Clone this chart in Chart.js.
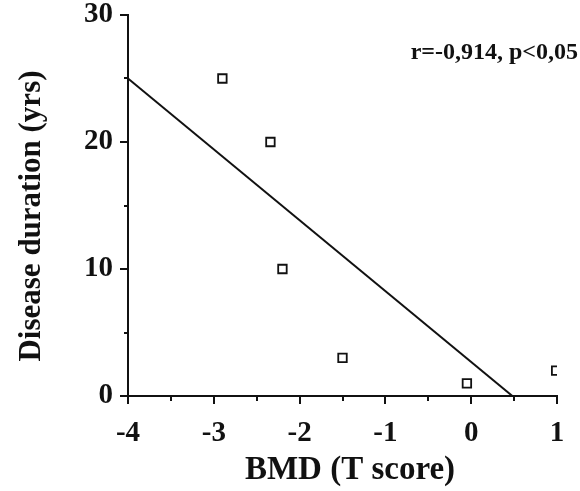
<!DOCTYPE html>
<html>
<head>
<meta charset="utf-8">
<script src="https://cdn.jsdelivr.net/npm/chart.js@4.4.0/dist/chart.umd.min.js"></script>
<style>
  html, body { margin: 0; padding: 0; background: #fff; }
  #wrap { width: 580px; height: 491px; }
</style>
</head>
<body>
<div id="wrap"><canvas id="myChart"></canvas></div>
<script>
// BMD T score vs disease duration
const bmd = [-2.9, -2.34, -2.2, -1.5, -0.05, 0.99];
const duration = [25, 20, 10, 3, 1, 2];

// regression line end points
const fitX = [-4, 0.48];
const fitY = [25, 0];

const statsText = 'r=-0,914, p<0,05';
const xTitle = 'BMD (T score)';
const yTitle = 'Disease duration (yrs)';

const xTicks = [-4, -3, -2, -1, 0, 1];
const yTicks = [0, 10, 20, 30];

const serif = "'Liberation Serif', 'Times New Roman', serif";
const ink = '#111';

const points = bmd.map((x, i) => ({ x: x, y: duration[i] }));
const fitLine = fitX.map((x, i) => ({ x: x, y: fitY[i] }));

// axis ticks (long on whole values, short at halves), axis titles and the r/p note
const tickMarks = {
    id: 'tickMarks',
    afterDatasetsDraw(chart) {
        const c = chart.ctx;
        const xs = chart.scales.x, ys = chart.scales.y;
        const area = chart.chartArea;
        c.save();
        c.strokeStyle = ink;
        c.lineWidth = 2;
        c.beginPath();
        for (let v = -4; v <= 1.001; v += 0.5) {
            const px = Math.round(xs.getPixelForValue(v));
            const len = Number.isInteger(v) ? 8 : 5;
            c.moveTo(px, area.bottom);
            c.lineTo(px, area.bottom + len);
        }
        for (let v = 0; v <= 30; v += 5) {
            const py = Math.round(ys.getPixelForValue(v));
            const len = v % 10 === 0 ? 8 : 4;
            c.moveTo(area.left, py);
            c.lineTo(area.left - len, py);
        }
        c.stroke();

        c.fillStyle = ink;
        c.textBaseline = 'middle';

        c.font = 'bold 24px ' + serif;
        c.textAlign = 'right';
        c.fillText(statsText, 578, 53);

        c.textAlign = 'center';
        c.font = 'bold 33px ' + serif;
        c.fillText(xTitle, 350, 470);

        c.translate(32, 216);
        c.rotate(-Math.PI / 2);
        c.font = 'bold 31px ' + serif;
        c.fillText(yTitle, 0, 0);
        c.restore();
    }
};

const ctx = document.getElementById('myChart');

new Chart(ctx, {
    type: 'scatter',
    data: {
        datasets: [
            {
                label: 'Fit',
                type: 'line',
                data: fitLine,
                borderColor: ink,
                borderWidth: 2,
                pointRadius: 0,
                fill: false
            },
            {
                label: 'Patients',
                data: points,
                pointStyle: 'rect',
                pointRadius: 6,
                backgroundColor: '#fff',
                borderColor: ink,
                borderWidth: 1.8
            },
            {
                label: 'Centre',
                data: points,
                pointStyle: 'rect',
                pointRadius: 1.5,
                backgroundColor: ink,
                borderColor: ink,
                borderWidth: 0.5
            }
        ]
    },
    options: {
        responsive: true,
        maintainAspectRatio: false,
        animation: false,
        layout: {
            padding: { top: 15, right: 23, left: 0, bottom: 0 }
        },
        plugins: {
            legend: { display: false },
            tooltip: { enabled: false }
        },
        scales: {
            x: {
                type: 'linear',
                min: -4,
                max: 1,
                afterBuildTicks: s => { s.ticks = xTicks.map(v => ({ value: v })); },
                afterFit: s => {
                    s.height = 95;
                    s.paddingLeft = 0;
                    s.paddingRight = 0;
                },
                grid: { display: false, drawTicks: false },
                border: { display: true, color: ink, width: 2 },
                ticks: {
                    color: ink,
                    padding: 20,
                    font: { family: serif, size: 29, weight: 'bold' }
                }
            },
            y: {
                type: 'linear',
                min: 0,
                max: 30,
                afterBuildTicks: s => { s.ticks = yTicks.map(v => ({ value: v })); },
                afterFit: s => {
                    s.width = 128;
                    s.paddingTop = 0;
                    s.paddingBottom = 0;
                },
                grid: { display: false, drawTicks: false },
                border: { display: true, color: ink, width: 2 },
                ticks: {
                    color: ink,
                    padding: 15,
                    font: { family: serif, size: 29, weight: 'bold' }
                }
            }
        }
    },
    plugins: [tickMarks]
});
</script>
</body>
</html>
